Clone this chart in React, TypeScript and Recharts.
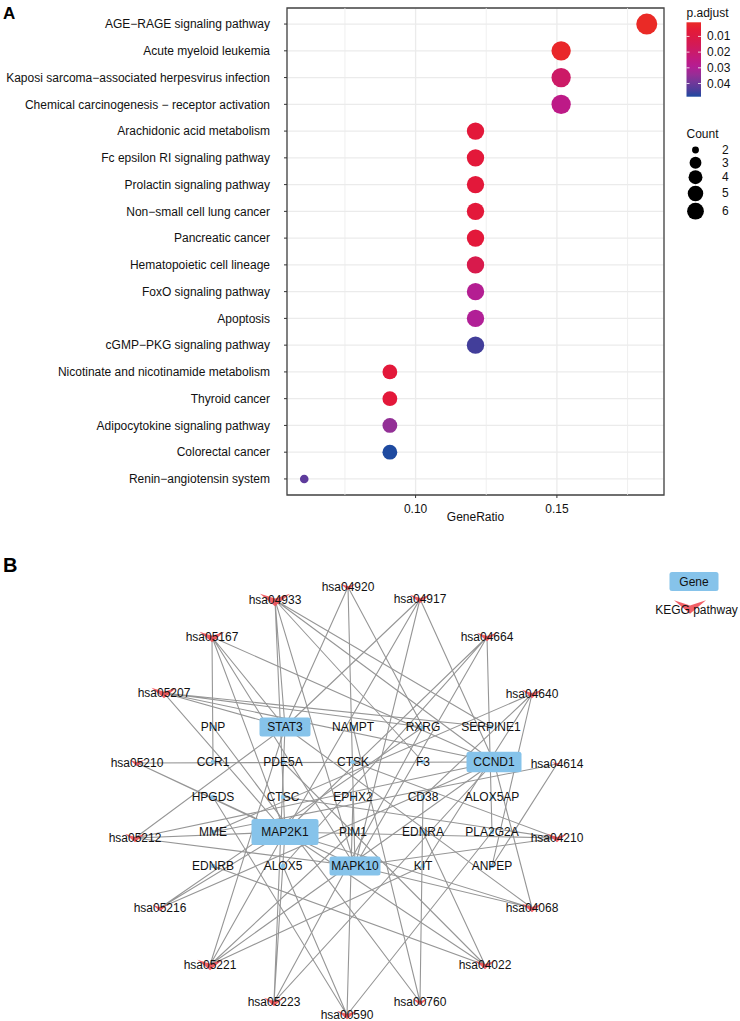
import React from 'react';
import {
  ScatterChart,
  Scatter,
  XAxis,
  YAxis,
  CartesianGrid,
  ReferenceLine,
  ReferenceArea,
} from 'recharts';

const FONT = '"Liberation Sans", Arial, Helvetica, sans-serif';

// ---------------- Panel A data ----------------
const pathwayNames = [
  'AGE\u2212RAGE signaling pathway',
  'Acute myeloid leukemia',
  'Kaposi sarcoma\u2212associated herpesvirus infection',
  'Chemical carcinogenesis \u2212 receptor activation',
  'Arachidonic acid metabolism',
  'Fc epsilon RI signaling pathway',
  'Prolactin signaling pathway',
  'Non\u2212small cell lung cancer',
  'Pancreatic cancer',
  'Hematopoietic cell lineage',
  'FoxO signaling pathway',
  'Apoptosis',
  'cGMP\u2212PKG signaling pathway',
  'Nicotinate and nicotinamide metabolism',
  'Thyroid cancer',
  'Adipocytokine signaling pathway',
  'Colorectal cancer',
  'Renin\u2212angiotensin system',
];
const geneRatio = [
  0.1818, 0.1515, 0.1515, 0.1515, 0.1212, 0.1212, 0.1212, 0.1212, 0.1212,
  0.1212, 0.1212, 0.1212, 0.1212, 0.0909, 0.0909, 0.0909, 0.0909, 0.0606,
];
const counts = [6, 5, 5, 5, 4, 4, 4, 4, 4, 4, 4, 4, 4, 3, 3, 3, 3, 2];
const pAdjust = [
  0.001, 0.002, 0.019, 0.026, 0.0067, 0.0067, 0.0067, 0.0067, 0.0067, 0.0128,
  0.029, 0.03, 0.0455, 0.0067, 0.0067, 0.035, 0.0484, 0.042,
];
const xTicks = [0.1, 0.15];
const xMinorTicks = [0.075, 0.125, 0.175];
const xDomain: [number, number] = [0.0545, 0.1879];
const pLegendTicks = [0.01, 0.02, 0.03, 0.04];
const countLegend = [2, 3, 4, 5, 6];

// ---------------- Panel B data ----------------
const geneNames = [
  'PNP', 'STAT3', 'NAMPT', 'RXRG', 'SERPINE1',
  'CCR1', 'PDE5A', 'CTSK', 'F3', 'CCND1',
  'HPGDS', 'CTSC', 'EPHX2', 'CD38', 'ALOX5AP',
  'MME', 'MAP2K1', 'PIM1', 'EDNRA', 'PLA2G2A',
  'EDNRB', 'ALOX5', 'MAPK10', 'KIT', 'ANPEP',
];
const geneX = [
  -13.4, -6.2, 0.6, 7.6, 14.4,
  -13.4, -6.4, 0.6, 7.6, 14.7,
  -13.4, -6.4, 0.6, 7.6, 14.5,
  -13.4, -6.2, 0.6, 7.6, 14.5,
  -13.4, -6.4, 0.8, 7.6, 14.5,
];
const geneY = [
  7.3, 7.3, 7.3, 7.3, 7.3,
  3.8, 3.8, 3.8, 3.8, 3.8,
  0.3, 0.3, 0.3, 0.3, 0.3,
  -3.2, -3.2, -3.2, -3.2, -3.2,
  -6.6, -6.6, -6.6, -6.6, -6.6,
];
// KEGG ids in the same order as pathwayNames
const keggIds = [
  'hsa04933', 'hsa05221', 'hsa05167', 'hsa05207', 'hsa00590', 'hsa04664',
  'hsa04917', 'hsa05223', 'hsa05212', 'hsa04640', 'hsa04068', 'hsa04210',
  'hsa04022', 'hsa00760', 'hsa05216', 'hsa04920', 'hsa05210', 'hsa04614',
];
const keggX = [
  -7.2, -13.7, -13.5, -18.3, 0.0, 14.0,
  7.3, -7.3, -21.2, 18.5, 18.5, 21.0,
  13.8, 7.3, -18.7, 0.1, -21.0, 21.0,
];
const keggY = [
  20.0, -16.5, 16.3, 10.7, -21.5, 16.3,
  20.1, -20.2, -3.8, 10.6, -10.8, -3.8,
  -16.5, -20.2, -10.8, 21.3, 3.7, 3.6,
];
const keggGenes = [
  ['STAT3', 'MAP2K1', 'SERPINE1', 'F3', 'CCND1', 'MAPK10'],
  ['STAT3', 'CCND1', 'MAP2K1', 'PIM1', 'KIT'],
  ['STAT3', 'CCND1', 'MAP2K1', 'MAPK10', 'CCR1'],
  ['STAT3', 'RXRG', 'SERPINE1', 'CCND1', 'MAP2K1'],
  ['HPGDS', 'EPHX2', 'ALOX5', 'PLA2G2A'],
  ['MAP2K1', 'MAPK10', 'ALOX5', 'PLA2G2A'],
  ['STAT3', 'CCND1', 'MAP2K1', 'MAPK10'],
  ['STAT3', 'CCND1', 'MAP2K1', 'RXRG'],
  ['STAT3', 'CCND1', 'MAP2K1', 'MAPK10'],
  ['KIT', 'CD38', 'ANPEP', 'MME'],
  ['STAT3', 'CCND1', 'MAP2K1', 'MAPK10'],
  ['CTSK', 'CTSC', 'MAP2K1', 'MAPK10'],
  ['PDE5A', 'EDNRA', 'EDNRB', 'MAP2K1'],
  ['PNP', 'NAMPT', 'CD38'],
  ['CCND1', 'MAP2K1', 'RXRG'],
  ['STAT3', 'MAPK10', 'RXRG'],
  ['CCND1', 'MAP2K1', 'MAPK10'],
  ['MME', 'ANPEP'],
];
const bXDomain: [number, number] = [-34.7, 39.3];
const bYDomain: [number, number] = [-22.1, 26];

// ---------------- scales ----------------
const colorStops: [number, string][] = [
  [0, '#EA2A26'],
  [0.12, '#E3183A'],
  [0.25, '#D81A4C'],
  [0.38, '#CC1A66'],
  [0.52, '#BE1A86'],
  [0.62, '#B01F97'],
  [0.73, '#8F3296'],
  [0.87, '#5C3B9C'],
  [0.95, '#3E3F9A'],
  [1, '#1E4AA0'],
];
const pMin = Math.min(...pAdjust);
const pMax = Math.max(...pAdjust);
const hex = (h: string) => [1, 3, 5].map((i) => parseInt(h.slice(i, i + 2), 16));
const toHex = (v: number[]) =>
  '#' + v.map((c) => Math.round(c).toString(16).padStart(2, '0')).join('');
function colorAtT(t: number) {
  const tt = Math.max(0, Math.min(1, t));
  for (let i = 1; i < colorStops.length; i++) {
    const [t1, c1] = colorStops[i];
    const [t0, c0] = colorStops[i - 1];
    if (tt <= t1) {
      const f = (tt - t0) / (t1 - t0);
      const a = hex(c0);
      const b = hex(c1);
      return toHex(a.map((v, k) => v + (b[k] - v) * f));
    }
  }
  return colorStops[colorStops.length - 1][1];
}
const colorOf = (p: number) => colorAtT((p - pMin) / (pMax - pMin));
const cMin = Math.min(...counts);
const cMax = Math.max(...counts);
const rMin = 4.3;
const rMax = 10.5;
const radiusOf = (c: number) =>
  rMin + Math.sqrt((c - cMin) / (cMax - cMin)) * (rMax - rMin);

const dotData = pathwayNames.map((name, i) => ({
  name,
  x: geneRatio[i],
  y: i,
  count: counts[i],
  p: pAdjust[i],
}));

const DotShape = (props: any) => {
  const { cx, cy, payload } = props;
  if (cx == null || cy == null) return <g />;
  return <circle cx={cx} cy={cy} r={radiusOf(payload.count)} fill={colorOf(payload.p)} />;
};

const YTick = (props: any) => {
  const { x, y, payload } = props;
  return (
    <text
      x={x}
      y={y}
      dy="0.355em"
      textAnchor="end"
      fontSize={12}
      fontFamily={FONT}
      fill="#111"
    >
      {pathwayNames[payload.value] ?? ''}
    </text>
  );
};

// ---------------- network data build ----------------
const geneIndex: Record<string, number> = {};
geneNames.forEach((g, i) => (geneIndex[g] = i));
const geneDegree = geneNames.map((g) =>
  keggGenes.reduce((acc, list) => acc + (list.includes(g) ? 1 : 0), 0)
);
const geneData = geneNames.map((name, i) => ({
  name,
  x: geneX[i],
  y: geneY[i],
  degree: geneDegree[i],
}));
const keggData = keggIds.map((id, i) => ({
  name: id,
  x: keggX[i],
  y: keggY[i],
  count: keggGenes[i].length,
}));
const edgeSeries = keggIds.map((id, i) => {
  const pts: { x: number; y: number }[] = [];
  keggGenes[i].forEach((g) => {
    const gi = geneIndex[g];
    pts.push({ x: keggX[i], y: keggY[i] });
    pts.push({ x: geneX[gi], y: geneY[gi] });
  });
  return { id, pts };
});

const GENE_BLUE = '#86C3EA';
const KEGG_RED = '#EF4F57';

const EmptyShape = () => <g />;

const GeneShape = (props: any) => {
  const { cx, cy, payload } = props;
  if (cx == null || cy == null) return <g />;
  const d = payload.degree;
  const hub = d >= 6;
  const w = 4 * d + 15;
  const h = 1.8 * d + 2.6;
  return (
    <g>
      {hub ? (
        <rect x={cx - w / 2} y={cy - h / 2} width={w} height={h} rx={2.5} fill={GENE_BLUE} />
      ) : (
        <circle cx={cx} cy={cy} r={2.2} fill={GENE_BLUE} />
      )}
      <text
        x={cx}
        y={cy}
        textAnchor="middle"
        dominantBaseline="central"
        fontSize={12}
        fontFamily={FONT}
        fill="#111"
      >
        {payload.name}
      </text>
    </g>
  );
};

// wide "V" marker used for KEGG pathway nodes
const chevron = (cx: number, cy: number, w: number) => {
  const h = w * 0.42;
  return `${cx - w / 2},${cy - h / 2} ${cx},${cy + h / 2} ${cx + w / 2},${cy - h / 2} ${cx},${cy - h * 0.12}`;
};

const KeggShape = (props: any) => {
  const { cx, cy, payload } = props;
  if (cx == null || cy == null) return <g />;
  const w = 5 * payload.count;
  return (
    <g>
      <polygon points={chevron(cx, cy, w)} fill={KEGG_RED} fillOpacity={0.9} />
      <text
        x={cx}
        y={cy}
        textAnchor="middle"
        dominantBaseline="central"
        fontSize={12}
        fontFamily={FONT}
        fill="#111"
      >
        {payload.name}
      </text>
    </g>
  );
};

// ---------------- legends ----------------
const barTop = 22.3;
const barH = 74.4;
const barX = 686.5;
const barW = 14.5;
const gradStops = Array.from({ length: 11 }, (_, k) => k / 10);
const countLegendRadii = countLegend.map((c) => radiusOf(c) * 0.8);
const countLegendY: number[] = [];
{
  let y = 150;
  countLegend.forEach((_, i) => {
    if (i > 0) {
      const hPrev = Math.max(12, countLegendRadii[i - 1] * 2 + 1.6);
      const hCur = Math.max(12, countLegendRadii[i] * 2 + 1.6);
      y += (hPrev + hCur) / 2;
    }
    countLegendY.push(y);
  });
}

const Overlay = () => (
  <svg
    width={740}
    height={1021}
    style={{ position: 'absolute', left: 0, top: 0, pointerEvents: 'none' }}
    fontFamily={FONT}
  >
    <defs>
      <linearGradient id="pgrad" x1="0" y1="0" x2="0" y2="1">
        {gradStops.map((t) => (
          <stop key={t} offset={t} stopColor={colorAtT(t)} />
        ))}
      </linearGradient>
    </defs>
    <text x={3} y={18.5} fontSize={17} fontWeight="bold" fill="#000">A</text>
    <text x={3} y={572} fontSize={20} fontWeight="bold" fill="#000">B</text>

    {/* p.adjust legend */}
    <text x={686.5} y={17} fontSize={12} fill="#111">p.adjust</text>
    <rect x={barX} y={barTop} width={barW} height={barH} fill="url(#pgrad)" />
    {pLegendTicks.map((v) => {
      const y = barTop + ((v - pMin) / (pMax - pMin)) * barH;
      return (
        <g key={v}>
          <line x1={barX} x2={barX + 3} y1={y} y2={y} stroke="#fff" strokeWidth={0.8} />
          <line x1={barX + barW - 3} x2={barX + barW} y1={y} y2={y} stroke="#fff" strokeWidth={0.8} />
          <text x={707} y={y} fontSize={12} dominantBaseline="central" fill="#111">
            {v.toFixed(2)}
          </text>
        </g>
      );
    })}

    {/* Count legend */}
    <text x={686.5} y={137.5} fontSize={12} fill="#111">Count</text>
    {countLegend.map((c, i) => (
      <g key={c}>
        <circle cx={695.5} cy={countLegendY[i]} r={countLegendRadii[i]} fill="#000" />
        <text x={722} y={countLegendY[i]} fontSize={12} dominantBaseline="central" fill="#111">
          {c}
        </text>
      </g>
    ))}

    {/* network legend */}
    <rect x={669.5} y={572} width={49} height={19} rx={2.5} fill={GENE_BLUE} />
    <text x={694} y={581.5} fontSize={12} textAnchor="middle" dominantBaseline="central" fill="#111">
      Gene
    </text>
    <polygon points={chevron(690, 607, 32)} fill={KEGG_RED} fillOpacity={0.9} />
    <text x={696.5} y={610} fontSize={12} textAnchor="middle" dominantBaseline="central" fill="#111">
      KEGG pathway
    </text>
  </svg>
);

export default function App() {
  return (
    <div
      style={{
        position: 'absolute',
        left: 0,
        top: 0,
        width: 740,
        height: 1021,
        background: '#fff',
        fontFamily: FONT,
        overflow: 'hidden',
      }}
    >
      <div style={{ position: 'absolute', left: 0, top: 0 }}>
        <ScatterChart
          width={740}
          height={525}
          margin={{ top: 8, right: 76, bottom: 0, left: 0 }}
        >
          <CartesianGrid stroke="#EBEBEB" strokeWidth={1.3} />
          {xMinorTicks.map((v) => (
            <ReferenceLine key={v} x={v} stroke="#EBEBEB" strokeWidth={0.8} ifOverflow="visible" />
          ))}
          <XAxis
            type="number"
            dataKey="x"
            domain={xDomain}
            allowDataOverflow
            ticks={xTicks}
            tickFormatter={(v: number) => v.toFixed(2)}
            tickSize={3}
            tickMargin={6}
            axisLine={false}
            tickLine={{ stroke: '#333' }}
            tick={{ fontSize: 12, fill: '#111', fontFamily: FONT }}
            height={30}
            label={{
              value: 'GeneRatio',
              position: 'insideBottom',
              offset: 4,
              style: { fontSize: 12, fill: '#111', fontFamily: FONT },
            }}
          />
          <YAxis
            type="number"
            dataKey="y"
            domain={[-0.6, 17.6]}
            allowDataOverflow
            reversed
            ticks={pathwayNames.map((_, i) => i)}
            interval={0}
            width={287}
            tickSize={3}
            tickMargin={14}
            axisLine={false}
            tickLine={{ stroke: '#333' }}
            tick={YTick}
          />
          <ReferenceArea
            x1={xDomain[0]}
            x2={xDomain[1]}
            y1={-0.6}
            y2={17.6}
            fill="none"
            fillOpacity={0}
            stroke="#444"
            strokeWidth={1.3}
            ifOverflow="visible"
          />
          <Scatter data={dotData} shape={DotShape} isAnimationActive={false} />
        </ScatterChart>
      </div>

      <div style={{ position: 'absolute', left: 0, top: 540 }}>
        <ScatterChart width={740} height={481} margin={{ top: 0, right: 0, bottom: 0, left: 0 }}>
          <XAxis type="number" dataKey="x" domain={bXDomain} allowDataOverflow hide />
          <YAxis type="number" dataKey="y" domain={bYDomain} allowDataOverflow hide />
          {edgeSeries.map((e) => (
            <Scatter
              key={e.id}
              data={e.pts}
              line={{ stroke: '#969696', strokeWidth: 1.1 }}
              lineType="joint"
              shape={EmptyShape}
              isAnimationActive={false}
            />
          ))}
          <Scatter data={geneData} shape={GeneShape} isAnimationActive={false} />
          <Scatter data={keggData} shape={KeggShape} isAnimationActive={false} />
        </ScatterChart>
      </div>

      <Overlay />
    </div>
  );
}
